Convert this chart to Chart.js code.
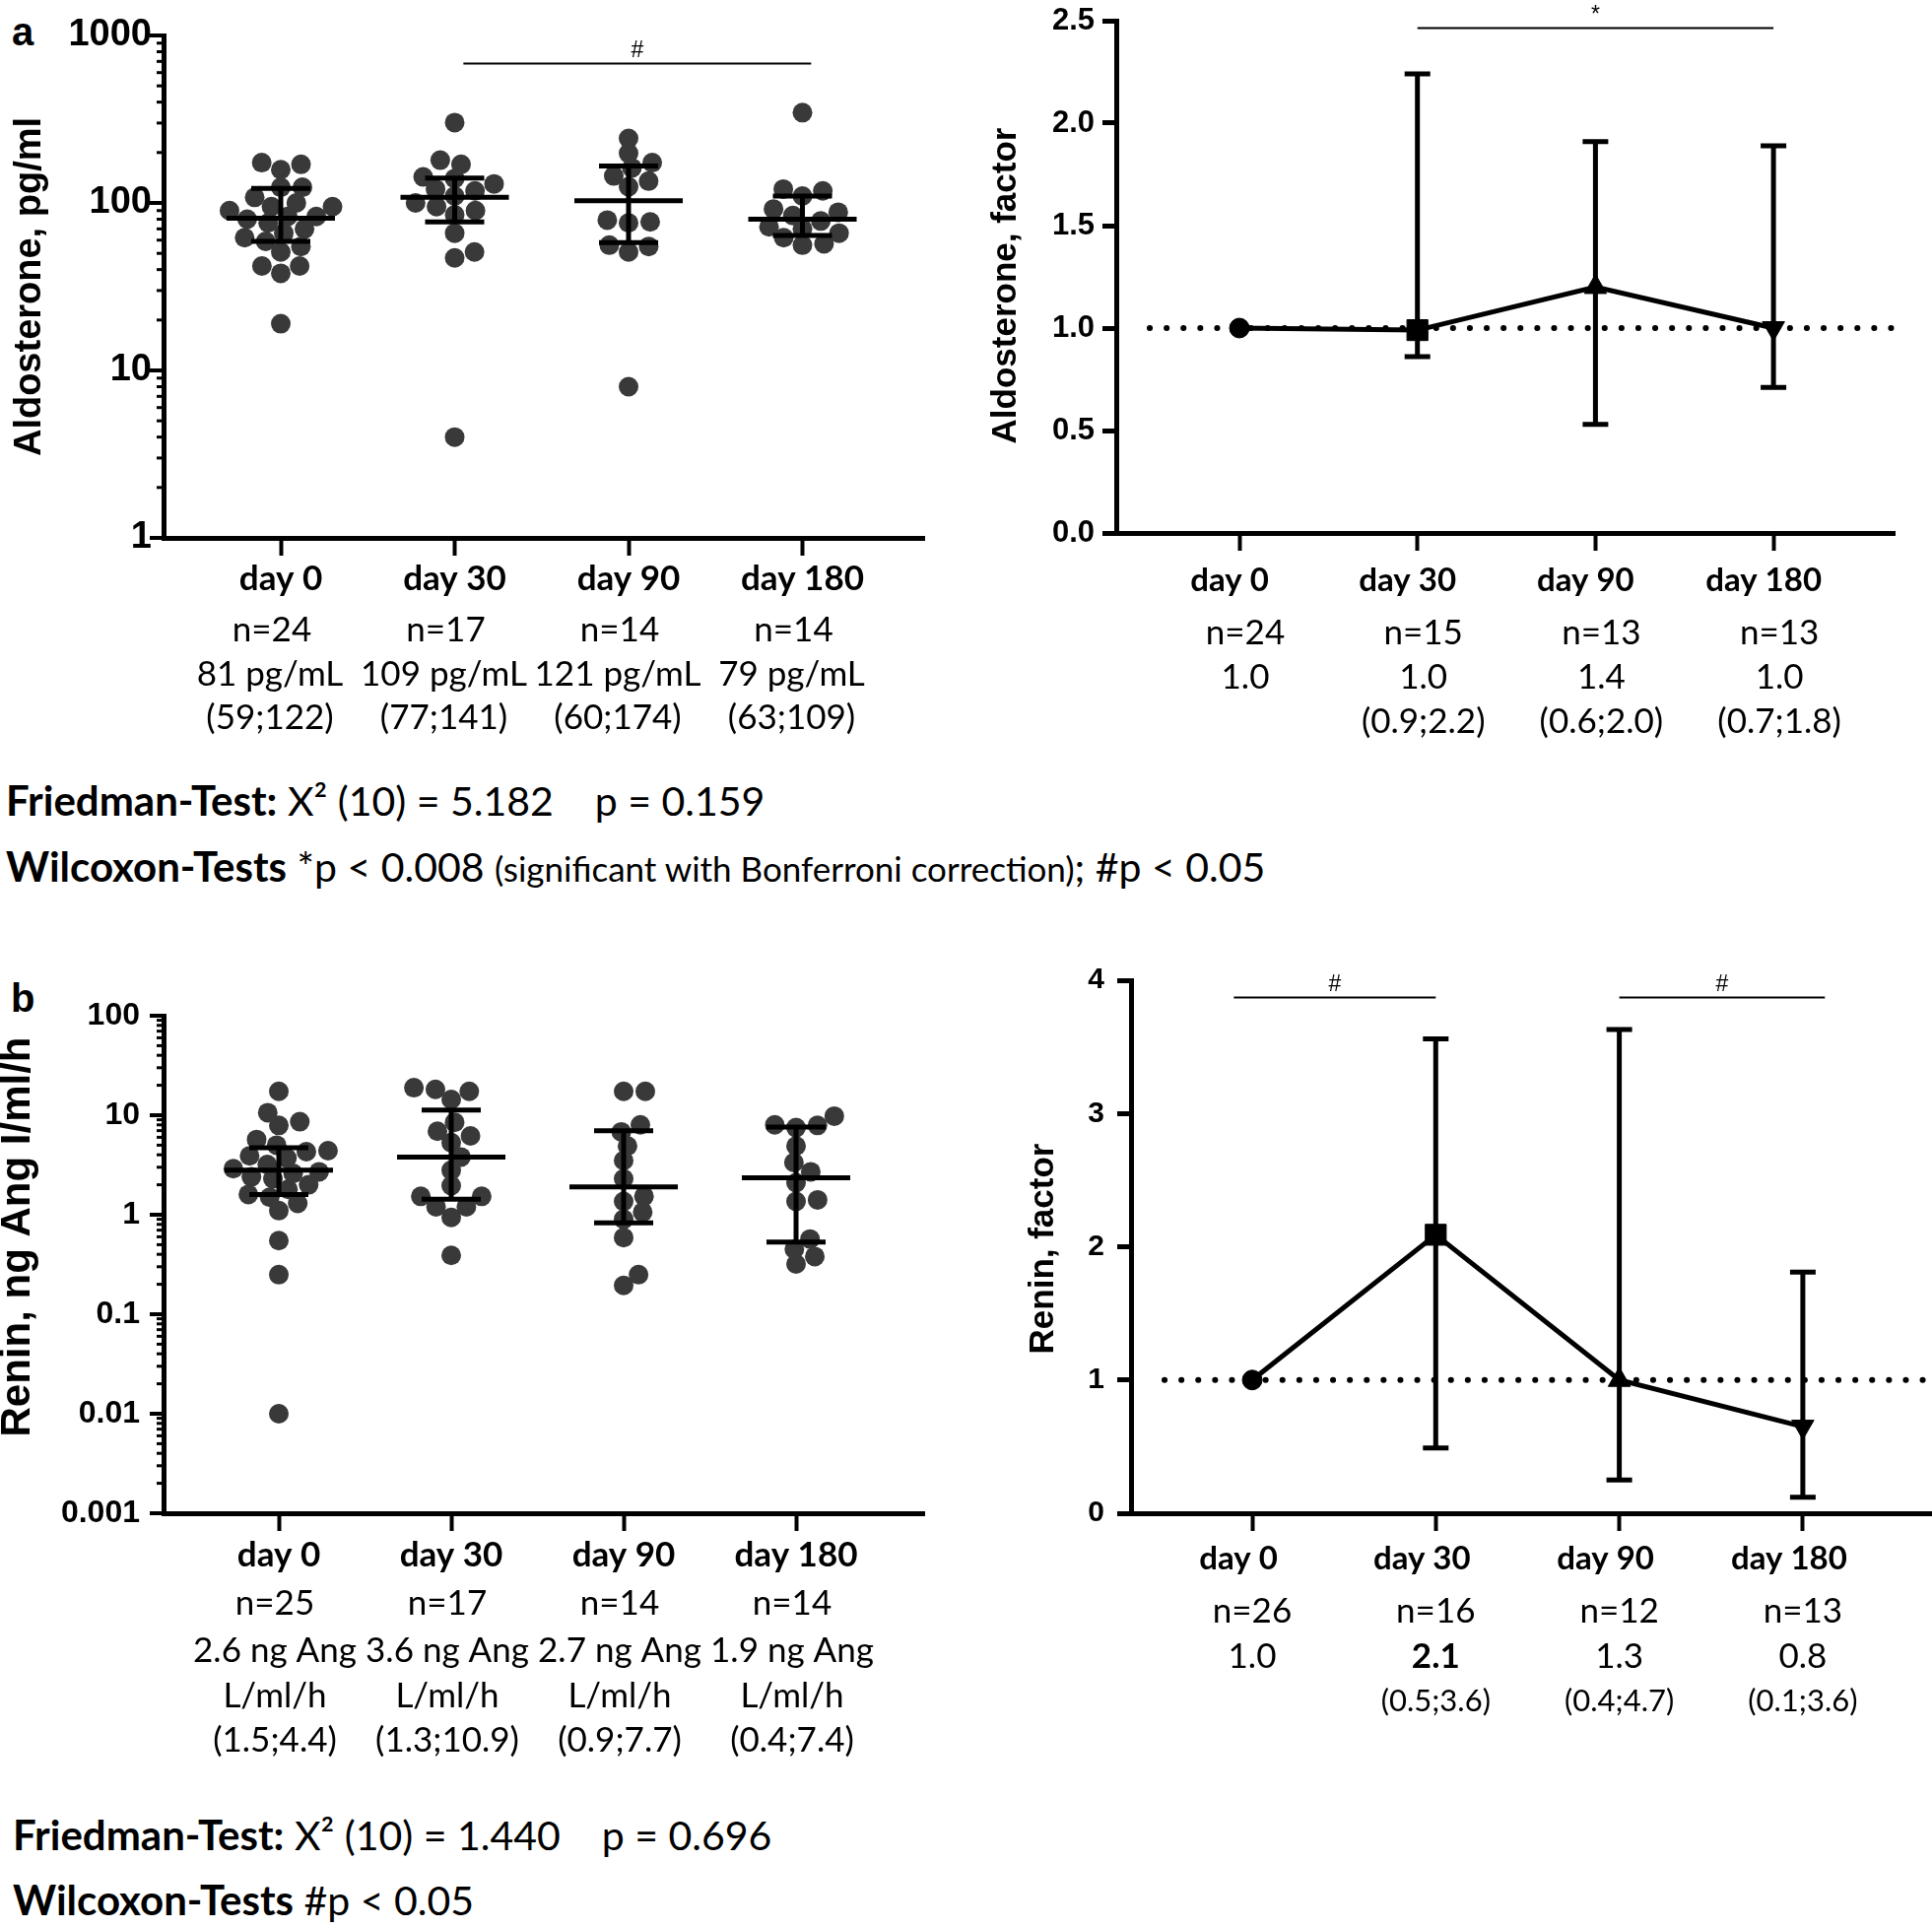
<!DOCTYPE html>
<html>
<head>
<meta charset="utf-8">
<script src="https://cdn.jsdelivr.net/npm/chart.js@4.4.0/dist/chart.umd.min.js"></script>
<style>
body { margin: 0; background: #fff; width: 1961px; height: 1957px; position: relative; overflow: hidden; font-family: Lato, sans-serif; color: #000; }
canvas { position: absolute; }
.stat { position: absolute; white-space: pre; font-size: 41px; line-height: 50px; }
.stat b { font-size: 42px; }
.stat small { font-size: 35px; }
.panel { position: absolute; font: bold 40px "Liberation Sans", Arial, sans-serif; line-height: 40px; }
</style>
</head>
<body>
<div class="panel" style="left:12px;top:12px">a</div>
<div class="panel" style="left:11px;top:993px">b</div>
<canvas id="aldoDots" style="left:0;top:0" width="960" height="780"></canvas>
<canvas id="aldoFactor" style="left:980px;top:-30px" width="981" height="810"></canvas>
<canvas id="reninDots" style="left:0;top:980px" width="960" height="840"></canvas>
<canvas id="reninFactor" style="left:980px;top:960px" width="981" height="840"></canvas>
<div class="stat" style="left:6px;top:787px"><b>Friedman-Test:</b> X² (10) = 5.182    p = 0.159</div>
<div class="stat" style="left:6px;top:854px"><b>Wilcoxon-Tests</b> *p &lt; 0.008 <small>(significant with Bonferroni correction)</small>; #p &lt; 0.05</div>
<div class="stat" style="left:13px;top:1837px"><b>Friedman-Test:</b> X² (10) = 1.440    p = 0.696</div>
<div class="stat" style="left:13px;top:1903px"><b>Wilcoxon-Tests</b> #p &lt; 0.05</div>
<script>
// categories
var days = ['day 0', 'day 30', 'day 90', 'day 180'];

// aldosterone, pg/ml (single values)
var aldoDay0 = [174, 158, 170, 124, 124, 108, 100, 95, 95, 90, 83, 83, 80, 76, 70, 66, 62, 59, 55, 51, 42, 42, 38, 19];
var aldoDay30 = [302, 180, 170, 143, 140, 130, 121, 118, 110, 100, 95, 90, 85, 66, 51, 47, 4.0];
var aldoDay90 = [243, 198, 174, 162, 145, 135, 125, 79, 77, 76, 56, 55, 51, 8.0];
var aldoDay180 = [346, 121, 118, 110, 92, 88, 84, 78, 72, 70, 66, 62, 57, 56];
var aldoMedian = [81, 108, 103, 80];
var aldoQ1 = [59, 77, 58, 64];
var aldoQ3 = [122, 141, 166, 110];
var aldoTickExp = [0, 3];
var aldoN = ['n=24', 'n=17', 'n=14', 'n=14'];
var aldoMedText = ['81 pg/mL', '109 pg/mL', '121 pg/mL', '79 pg/mL'];
var aldoIqrText = ['(59;122)', '(77;141)', '(60;174)', '(63;109)'];

// aldosterone, factor
var aldoFactor = [1.0, 0.99, 1.2, 1.0];
var aldoFactorLow = [null, 0.86, 0.53, 0.71];
var aldoFactorHigh = [null, 2.24, 1.91, 1.89];
var aldoFactorTicks = [0, 0.5, 1.0, 1.5, 2.0, 2.5];
var aldoFactorN = ['n=24', 'n=15', 'n=13', 'n=13'];
var aldoFactorText = ['1.0', '1.0', '1.4', '1.0'];
var aldoFactorIqr = ['', '(0.9;2.2)', '(0.6;2.0)', '(0.7;1.8)'];

// renin, ng Ang I/ml/h (single values)
var reninDay0 = [17.4, 10.6, 8.6, 7.9, 5.7, 5.0, 4.4, 4.3, 3.9, 3.7, 3.2, 2.9, 2.7, 2.6, 2.4, 2.3, 2.0, 1.8, 1.6, 1.5, 1.3, 1.1, 0.55, 0.25, 0.01];
var reninDay30 = [18.9, 18.2, 17.4, 14.4, 8.5, 6.9, 6.2, 5.3, 3.8, 2.8, 1.96, 1.53, 1.53, 1.2, 1.2, 0.94, 0.39];
var reninDay90 = [17.4, 17.4, 8.0, 6.8, 4.9, 3.5, 2.3, 1.53, 1.36, 1.06, 0.90, 0.59, 0.25, 0.195];
var reninDay180 = [9.8, 8.0, 7.9, 7.5, 4.9, 3.35, 2.7, 2.1, 1.41, 1.36, 0.57, 0.45, 0.38, 0.32];
var reninMedian = [2.8, 3.8, 1.9, 2.35];
var reninQ1 = [1.6, 1.43, 0.83, 0.53];
var reninQ3 = [4.7, 11.3, 7.0, 7.6];
var reninTickExp = [-3, 2];
var reninN = ['n=25', 'n=17', 'n=14', 'n=14'];
var reninMedText = ['2.6 ng Ang', '3.6 ng Ang', '2.7 ng Ang', '1.9 ng Ang'];
var reninUnit = ['L/ml/h', 'L/ml/h', 'L/ml/h', 'L/ml/h'];
var reninIqrText = ['(1.5;4.4)', '(1.3;10.9)', '(0.9;7.7)', '(0.4;7.4)'];

// renin, factor
var reninFactor = [1.0, 2.09, 1.0, 0.65];
var reninFactorLow = [null, 0.49, 0.25, 0.12];
var reninFactorHigh = [null, 3.56, 3.63, 1.81];
var reninFactorTicks = [0, 1, 2, 3, 4];
var reninFactorN = ['n=26', 'n=16', 'n=12', 'n=13'];
var reninFactorText = ['1.0', '2.1', '1.3', '0.8'];
var reninFactorIqr = ['', '(0.5;3.6)', '(0.4;4.7)', '(0.1;3.6)'];

var markerStyles = ['circle', 'rect', 'triangle', 'triangle'];
var markerRotation = [0, 0, 0, 180];

function isPow10(v) {
    var l = Math.log10(v);
    return Math.abs(l - Math.round(l)) < 1e-9;
}

function logTicks(e0, e1) {
    var t = [];
    for (var e = e0; e < e1; e++) {
        for (var m = 1; m < 10; m++) {
            t.push({value: m * Math.pow(10, e)});
        }
    }
    t.push({value: Math.pow(10, e1)});
    return t;
}

// beeswarm with an elliptic clearance: gx side by side, gy above each other
function swarm(values, pxPerDecade, gx, gy) {
    var order = values.map(function (v, i) { return i; }).sort(function (a, b) { return values[a] - values[b]; });
    var placed = [];
    var off = [];
    function free(c, y) {
        return placed.every(function (p) {
            var dx = (p.x - c) / gx, dy = (p.y - y) / gy;
            return dx * dx + dy * dy >= 0.999;
        });
    }
    order.forEach(function (i) {
        var y = Math.log10(values[i]) * pxPerDecade;
        var cands = [0];
        placed.forEach(function (p) {
            var dy = (p.y - y) / gy;
            if (Math.abs(dy) < 1) {
                var dx = gx * Math.sqrt(1 - dy * dy);
                cands.push(p.x + dx, p.x - dx);
            }
        });
        cands.sort(function (a, b) { return Math.abs(a) - Math.abs(b); });
        for (var k = 0; k < cands.length; k++) {
            if (free(cands[k], y)) {
                off[i] = cands[k];
                placed.push({x: cands[k], y: y});
                break;
            }
        }
    });
    return off;
}

function textRows(rows) {
    return {
        id: 'rows',
        afterDraw: function (chart) {
            var ctx = chart.ctx, x = chart.scales.x;
            ctx.save();
            ctx.fillStyle = '#000';
            ctx.textAlign = 'center';
            ctx.textBaseline = 'middle';
            rows.forEach(function (r) {
                r.texts.forEach(function (t, i) {
                    var bold = r.bold === true || (r.boldAt && r.boldAt.indexOf(i) >= 0);
                    ctx.font = (bold ? 'bold ' : '') + r.size + 'px Lato';
                    ctx.fillText(t, x.getPixelForValue(i) + (r.dx || 0), r.y);
                });
            });
            ctx.restore();
        }
    };
}

function axisTitle(t) {
    return {
        id: 'axisTitle',
        afterDraw: function (chart) {
            var ctx = chart.ctx, a = chart.chartArea;
            ctx.save();
            ctx.translate(t.x, (a.top + a.bottom) / 2 + (t.dy || 0));
            ctx.rotate(-Math.PI / 2);
            ctx.fillStyle = '#000';
            ctx.font = 'bold ' + t.size + 'px "Liberation Sans", Arial';
            ctx.textAlign = 'center';
            ctx.textBaseline = 'middle';
            ctx.fillText(t.text, 0, 0);
            ctx.restore();
        }
    };
}

function sigBars(bars) {
    return {
        id: 'sig',
        afterDraw: function (chart) {
            var ctx = chart.ctx, x = chart.scales.x, y = chart.scales.y;
            ctx.save();
            ctx.strokeStyle = '#000';
            ctx.fillStyle = '#000';
            ctx.lineWidth = 2;
            ctx.font = '23px "Liberation Sans"';
            ctx.textAlign = 'center';
            ctx.textBaseline = 'bottom';
            bars.forEach(function (b) {
                var py = Math.round(y.getPixelForValue(b.y)) + 0.5;
                var x0 = x.getPixelForValue(b.from), x1 = x.getPixelForValue(b.to);
                ctx.beginPath();
                ctx.moveTo(x0, py);
                ctx.lineTo(x1, py);
                ctx.stroke();
                ctx.fillText(b.label, (x0 + x1) / 2, py - 1);
            });
            ctx.restore();
        }
    };
}

function axisX(geo, xmin, xmax) {
    return {
        type: 'linear', min: xmin, max: xmax,
        afterBuildTicks: function (s) { s.ticks = [0, 1, 2, 3].map(function (v) { return {value: v}; }); },
        afterFit: function (s) { s.height = geo.h - geo.bottom; },
        ticks: {display: false},
        grid: {drawOnChartArea: false, tickLength: 18, tickWidth: 4, tickColor: '#000'},
        border: {width: 5, color: '#000'}
    };
}

function dotPlot(id, geo, groups, med, q1, q3, exps, tick, title, rows) {
    var xmin = (geo.left - geo.cat0) / geo.step;
    var xmax = (geo.right - geo.cat0) / geo.step;
    var pxDec = (geo.bottom - geo.top) / (exps[1] - exps[0]);
    var points = [];
    groups.forEach(function (g, gi) {
        var off = swarm(g, pxDec, 22, 15);
        g.forEach(function (v, i) {
            points.push({x: gi + off[i] / geo.step, y: v});
        });
    });
    var bars = {
        id: 'medianBars',
        afterDatasetsDraw: function (chart) {
            var ctx = chart.ctx, x = chart.scales.x, y = chart.scales.y;
            ctx.save();
            ctx.strokeStyle = '#000';
            ctx.lineWidth = 5;
            med.forEach(function (m, i) {
                var cx = x.getPixelForValue(i);
                var pm = y.getPixelForValue(m), p1 = y.getPixelForValue(q1[i]), p3 = y.getPixelForValue(q3[i]);
                ctx.beginPath();
                ctx.moveTo(cx - 55, pm); ctx.lineTo(cx + 55, pm);
                ctx.moveTo(cx - 30, p1); ctx.lineTo(cx + 30, p1);
                ctx.moveTo(cx - 30, p3); ctx.lineTo(cx + 30, p3);
                ctx.moveTo(cx, p1); ctx.lineTo(cx, p3);
                ctx.stroke();
            });
            ctx.restore();
        }
    };
    var logMarks = {
        id: 'logMarks',
        afterDraw: function (chart) {
            var y = chart.scales.y, ctx = chart.ctx, left = chart.chartArea.left;
            ctx.save();
            ctx.strokeStyle = '#000';
            y.ticks.forEach(function (t) {
                var p = y.getPixelForValue(t.value);
                var major = isPow10(t.value);
                ctx.lineWidth = major ? 4 : 3;
                ctx.beginPath();
                ctx.moveTo(left - (major ? 14 : 7), p);
                ctx.lineTo(left, p);
                ctx.stroke();
            });
            ctx.restore();
        }
    };
    return new Chart(document.getElementById(id), {
        type: 'scatter',
        data: {
            datasets: [{
                data: points,
                pointRadius: 10,
                pointBackgroundColor: '#393939',
                pointBorderWidth: 0,
                pointHoverRadius: 10
            }]
        },
        options: {
            responsive: false,
            animation: false,
            layout: {autoPadding: false, padding: {top: geo.top, right: geo.w - geo.right, left: 0, bottom: 0}},
            plugins: {legend: {display: false}, tooltip: {enabled: false}},
            scales: {
                x: axisX(geo, xmin, xmax),
                y: {
                    type: 'logarithmic',
                    min: Math.pow(10, exps[0]), max: Math.pow(10, exps[1]),
                    afterBuildTicks: function (s) { s.ticks = logTicks(exps[0], exps[1]); },
                    afterFit: function (s) { s.width = geo.left; },
                    ticks: {
                        autoSkip: false,
                        padding: tick.pad,
                        color: '#000',
                        font: {family: '"Liberation Sans", Arial', weight: 'bold', size: tick.size},
                        callback: function (v) {
                            if (!isPow10(v)) return '';
                            var e = Math.round(Math.log10(v));
                            return e < 0 ? v.toFixed(-e) : String(Math.round(v));
                        }
                    },
                    grid: {drawOnChartArea: false, drawTicks: false},
                    border: {width: 5, color: '#000'}
                }
            }
        },
        plugins: [bars, logMarks, textRows(rows), axisTitle(title)].concat(geo.sig ? [sigBars(geo.sig)] : [])
    });
}

function factorPlot(id, geo, vals, low, high, ticks, tickFmt, tick, title, rows) {
    var xmin = (geo.left - geo.cat0) / geo.step;
    var xmax = (geo.right - geo.cat0) / geo.step;
    var errorBars = {
        id: 'errorBars',
        beforeDatasetsDraw: function (chart) {
            var ctx = chart.ctx, x = chart.scales.x, y = chart.scales.y, a = chart.chartArea;
            ctx.save();
            // dotted reference line at factor 1
            ctx.strokeStyle = '#000';
            ctx.lineWidth = 6;
            ctx.lineCap = 'round';
            ctx.setLineDash([0.1, 17]);
            var p1 = y.getPixelForValue(1);
            ctx.beginPath();
            ctx.moveTo(a.left + 34, p1);
            ctx.lineTo(a.right, p1);
            ctx.stroke();
            ctx.setLineDash([]);
            ctx.lineCap = 'butt';
            ctx.lineWidth = 5;
            vals.forEach(function (v, i) {
                if (low[i] == null) return;
                var cx = x.getPixelForValue(i);
                var pl = y.getPixelForValue(low[i]), ph = y.getPixelForValue(high[i]);
                ctx.beginPath();
                ctx.moveTo(cx, pl); ctx.lineTo(cx, ph);
                ctx.moveTo(cx - 13, pl); ctx.lineTo(cx + 13, pl);
                ctx.moveTo(cx - 13, ph); ctx.lineTo(cx + 13, ph);
                ctx.stroke();
            });
            ctx.restore();
        }
    };
    return new Chart(document.getElementById(id), {
        type: 'scatter',
        data: {
            datasets: [{
                data: vals.map(function (v, i) { return {x: i, y: v}; }),
                showLine: true,
                borderColor: '#000',
                borderWidth: 5,
                pointStyle: markerStyles,
                rotation: markerRotation,
                pointRadius: [10, 15, 13, 13],
                pointHoverRadius: [10, 15, 13, 13],
                pointBackgroundColor: '#000',
                pointBorderColor: '#000',
                pointBorderWidth: 1
            }]
        },
        options: {
            responsive: false,
            animation: false,
            layout: {autoPadding: false, padding: {top: geo.top, right: geo.w - geo.right, left: 0, bottom: 0}},
            plugins: {legend: {display: false}, tooltip: {enabled: false}},
            scales: {
                x: axisX(geo, xmin, xmax),
                y: {
                    type: 'linear',
                    min: ticks[0], max: ticks[ticks.length - 1],
                    afterBuildTicks: function (s) { s.ticks = ticks.map(function (v) { return {value: v}; }); },
                    afterFit: function (s) { s.width = geo.left; },
                    ticks: {
                        autoSkip: false,
                        padding: tick.pad,
                        color: '#000',
                        font: {family: '"Liberation Sans", Arial', weight: 'bold', size: tick.size},
                        callback: tickFmt
                    },
                    grid: {drawOnChartArea: false, tickLength: 14, tickWidth: 5, tickColor: '#000'},
                    border: {width: 5, color: '#000'}
                }
            }
        },
        plugins: [errorBars, textRows(rows), axisTitle(title)].concat(geo.sig ? [sigBars(geo.sig)] : [])
    });
}

dotPlot('aldoDots',
    {w: 960, h: 780, left: 166, top: 36, right: 938, bottom: 546, cat0: 285, step: 176.5,
        sig: [{from: 1.05, to: 3.05, y: 680, label: '#'}]},
    [aldoDay0, aldoDay30, aldoDay90, aldoDay180], aldoMedian, aldoQ1, aldoQ3, aldoTickExp,
    {size: 38, pad: 12},
    {text: 'Aldosterone, pg/ml', size: 38, x: 31, dy: 0},
    [
        {texts: days, y: 588, size: 35, bold: true},
        {texts: aldoN, y: 640, size: 35, dx: -9},
        {texts: aldoMedText, y: 685, size: 35, dx: -11},
        {texts: aldoIqrText, y: 729, size: 35, dx: -11}
    ]);

// canvas sits 30px above the page top
factorPlot('aldoFactor',
    {w: 981, h: 810, left: 153, top: 51, right: 943, bottom: 571, cat0: 278, step: 180.7,
        sig: [{from: 1, to: 3, y: 2.467, label: '*'}]},
    aldoFactor, aldoFactorLow, aldoFactorHigh, aldoFactorTicks,
    function (v) { return v.toFixed(1); },
    {size: 31, pad: 8},
    {text: 'Aldosterone, factor', size: 35, x: 41, dy: 9},
    [
        {texts: days, y: 619, size: 33, bold: true, dx: -10},
        {texts: aldoFactorN, y: 673, size: 35, dx: 6},
        {texts: aldoFactorText, y: 718, size: 35, dx: 6},
        {texts: aldoFactorIqr, y: 763, size: 35, dx: 6}
    ]);

dotPlot('reninDots',
    {w: 960, h: 840, left: 166, top: 51, right: 938, bottom: 556, cat0: 283, step: 175},
    [reninDay0, reninDay30, reninDay90, reninDay180], reninMedian, reninQ1, reninQ3, reninTickExp,
    {size: 32, pad: 24},
    {text: 'Renin, ng Ang I/ml/h', size: 42, x: 18, dy: -28},
    [
        {texts: days, y: 599, size: 35, bold: true},
        {texts: reninN, y: 648, size: 35, dx: -4},
        {texts: reninMedText, y: 696, size: 35, dx: -4},
        {texts: reninUnit, y: 742, size: 35, dx: -4},
        {texts: reninIqrText, y: 787, size: 35, dx: -4}
    ]);

factorPlot('reninFactor',
    {w: 981, h: 840, left: 168, top: 35, right: 981, bottom: 576, cat0: 291, step: 186.3,
        sig: [{from: -0.1, to: 1, y: 3.874, label: '#'}, {from: 2, to: 3.12, y: 3.874, label: '#'}]},
    reninFactor, reninFactorLow, reninFactorHigh, reninFactorTicks,
    function (v) { return String(v); },
    {size: 30, pad: 13},
    {text: 'Renin, factor', size: 35, x: 79, dy: 2},
    [
        {texts: days, y: 622, size: 33, bold: true, dx: -14},
        {texts: reninFactorN, y: 676, size: 35},
        {texts: reninFactorText, y: 722, size: 35, boldAt: [1]},
        {texts: reninFactorIqr, y: 767, size: 31}
    ]);
</script>
</body>
</html>
